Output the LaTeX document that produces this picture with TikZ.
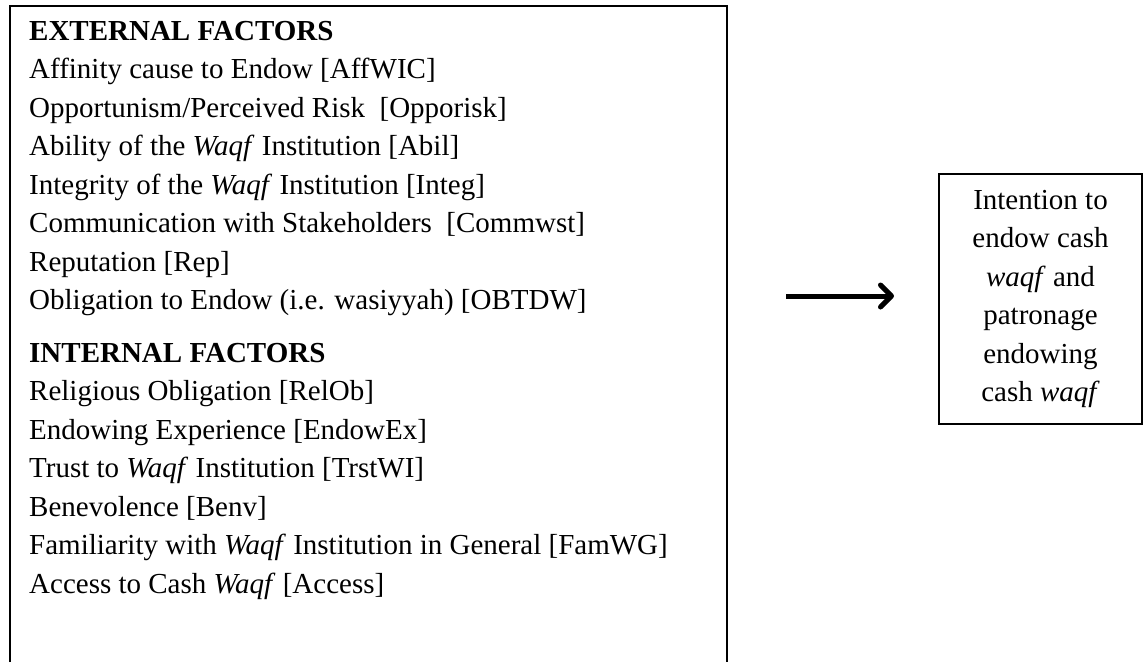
\documentclass[tikz,border=0pt]{standalone}
\usepackage{fontspec}
\setmainfont{Liberation Serif}
\usetikzlibrary{arrows.meta}
\begin{document}
\begin{tikzpicture}[x=1pt,y=-1pt,
  frame/.style={line width=2.6pt},
  factorlist/.style={align=left,inner sep=0pt,font=\fontsize{29}{38.5}\selectfont},
  outcome/.style={draw,line width=2.2pt,minimum width=203pt,minimum height=250pt,
    align=center,inner sep=0pt,font=\fontsize{29}{38.5}\selectfont},
  flow/.style={line width=5pt,-{Straight Barb[length=11pt,width=22pt,line width=5pt,round]}}]
\useasboundingbox (0,0) rectangle (1145,662);
\fill[white] (0,0) rectangle (1145,662);
% open-bottomed frame around the factor lists
\draw[frame] (10,662) -- (10,6) -- (727,6) -- (727,662);
% the node's base anchor sits on the baseline of its last line
\node[factorlist,anchor=base west] (factors) at (29,593) {%
\textbf{EXTERNAL FACTORS}\\
Affinity cause to Endow [AffWIC]\\
Opportunism/Perceived Risk\ \ [Opporisk]\\
Ability of the \textit{Waqf} Institution [Abil]\\
Integrity of the \textit{Waqf} Institution [Integ]\\
Communication with Stakeholders\ \ [Commwst]\\
Reputation [Rep]\\
Obligation to Endow (i.e. wasiyyah) [OBTDW]\\[14pt]
\textbf{INTERNAL FACTORS}\\
Religious Obligation [RelOb]\\
Endowing Experience [EndowEx]\\
Trust to \textit{Waqf} Institution [TrstWI]\\
Benevolence [Benv]\\
Familiarity with \textit{Waqf} Institution in General [FamWG]\\
Access to Cash \textit{Waqf} [Access]};
\node[outcome] (intention) at (1040.5,299) {%
Intention to\\ endow cash\\ \textit{waqf} and\\ patronage\\ endowing\\ cash \textit{waqf}};
\coordinate (flowstart) at (786,296);
\coordinate (flowend) at (894,296);
\draw[flow] (flowstart) -- (flowend);
\end{tikzpicture}
\end{document}
